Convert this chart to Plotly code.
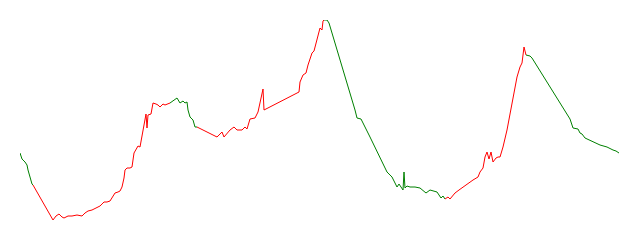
import plotly.graph_objects as go

# Series (x = step index, y = value)
x_vals = [0, 2, 5, 7, 8, 10, 12, 13,
          33, 36, 39, 42, 44, 48, 52, 57, 62, 65, 68, 72, 77, 80, 84, 87, 90, 93, 95, 98, 100, 102, 104, 105, 107, 110, 112, 114, 116, 118, 120, 122, 124, 126, 127, 128, 131, 133, 136, 138, 140, 143, 145, 148, 150,
          154, 157, 160, 163, 165, 167, 168, 170, 173, 175, 177,
          197, 200, 202, 204, 207, 210, 214, 217, 222, 225, 227, 230, 235, 238, 243, 244, 279, 280, 283, 286, 288, 290, 292, 294, 297, 300, 302, 303, 304,
          307, 309, 312, 315, 325, 335, 337, 341, 350, 360, 367, 372, 377, 379, 382, 383, 384, 385, 387, 390, 395, 400, 406, 410, 417, 421, 423,
          425, 428, 430, 435, 439, 443, 448, 453, 458, 460, 463, 465, 467, 469, 471, 473, 476, 478, 480, 483, 487, 492, 497, 500, 502, 504,
          506, 510, 512, 531, 550, 551, 553, 558, 560, 562, 565, 580, 587, 593, 596, 599]
y_vals = [87, 81, 78, 75, 70, 62, 56, 55,
          20, 24, 26, 23, 22, 24, 24, 25, 24, 27, 29, 30, 32, 34, 38, 38, 39, 44, 47, 48, 49, 53, 62, 70, 72, 72, 73, 87, 90, 94, 93, 103, 115, 126, 112, 125, 126, 137, 136, 135, 133, 136, 135, 136, 137,
          140, 142, 137, 139, 137, 138, 130, 123, 120, 113, 113,
          103, 106, 108, 103, 107, 110, 113, 110, 110, 113, 111, 121, 122, 128, 151, 130, 148, 158, 165, 167, 175, 180, 187, 189, 201, 212, 210, 219, 220,
          220, 217, 207, 197, 165, 130, 122, 121, 103, 83, 68, 63, 53, 56, 51, 50, 68, 52, 54, 53, 53, 52, 47, 50, 48, 42, 44,
          41, 43, 41, 47, 50, 53, 57, 60, 63, 68, 72, 83, 88, 81, 88, 78, 82, 83, 83, 93, 110, 138, 163, 173, 177, 193,
          185, 184, 182, 152, 121, 118, 112, 111, 107, 106, 102, 95, 93, 90, 89, 87]
# segment boundaries (start index, end index inclusive) and colours
seg_starts = [0, 7, 52, 63, 92, 120, 146]
seg_ends = [7, 52, 63, 92, 120, 146, 162]
seg_colors = ["green", "red", "green", "red", "green", "red", "green"]

fig = go.Figure()
for s, e, c in zip(seg_starts, seg_ends, seg_colors):
    fig.add_trace(go.Scatter(x=x_vals[s:e + 1], y=y_vals[s:e + 1], mode="lines",
                             line=dict(color=c, width=1), hoverinfo="skip"))

fig.update_layout(width=640, height=240, margin=dict(l=20, r=20, t=20, b=20),
                  paper_bgcolor="white", plot_bgcolor="white", showlegend=False,
                  xaxis=dict(range=[0, 600], visible=False),
                  yaxis=dict(range=[20, 220], visible=False))
fig.write_html("out.html")
